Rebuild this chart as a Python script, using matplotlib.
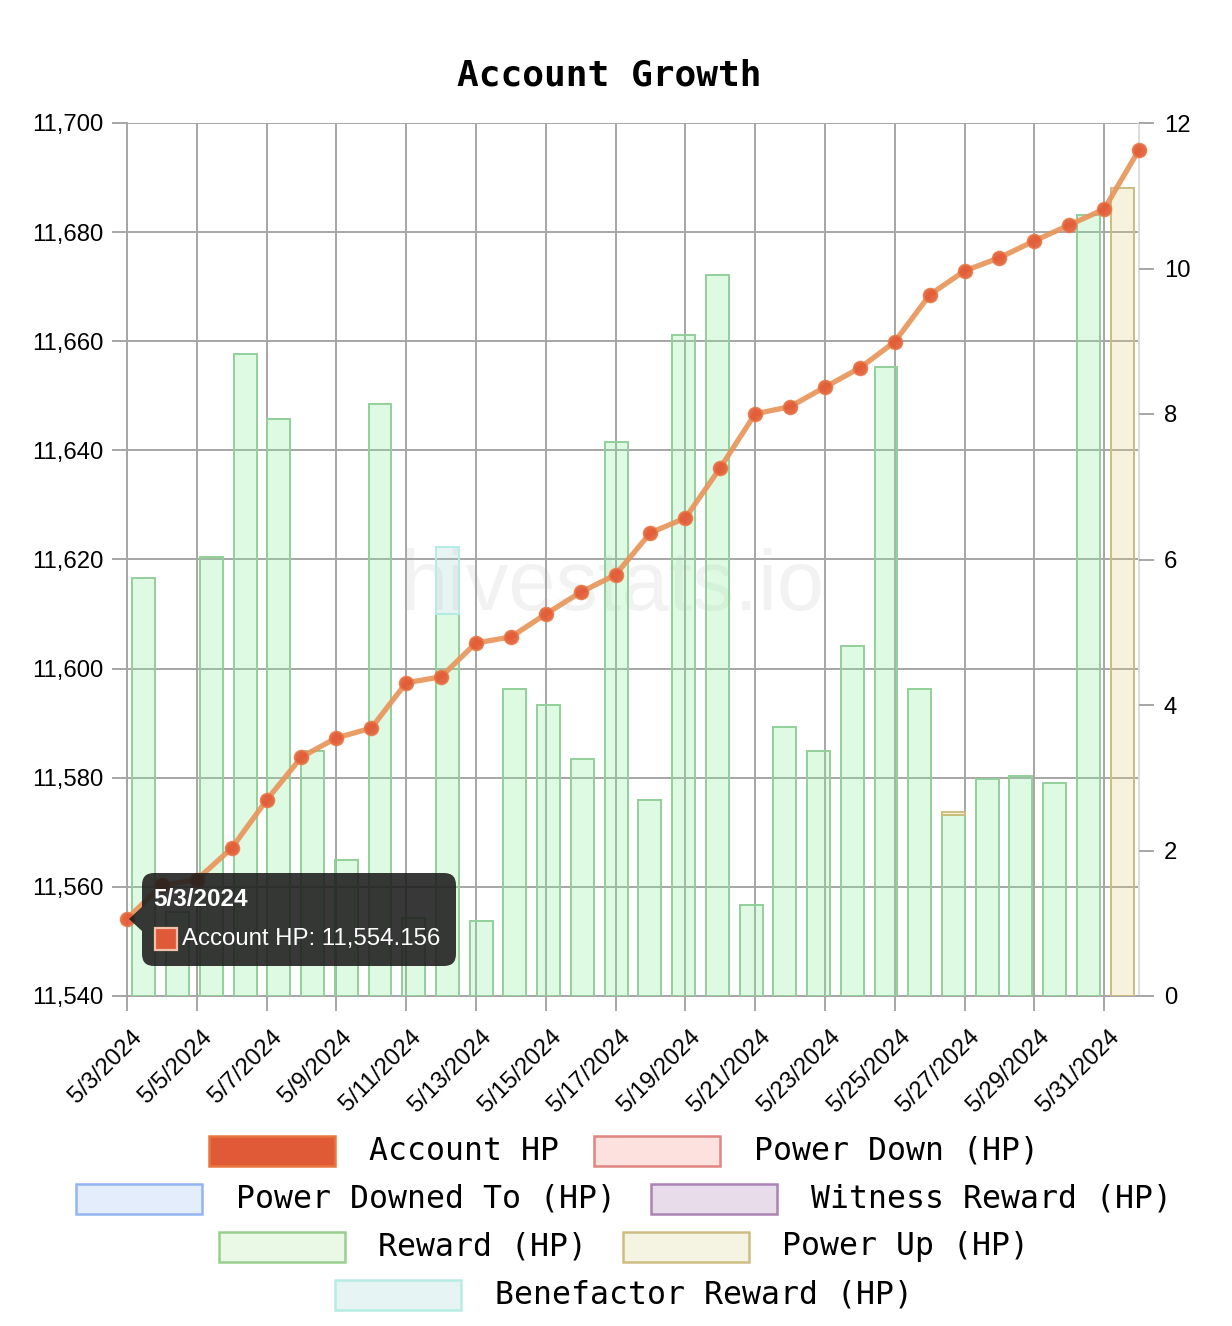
import numpy as np
import matplotlib.pyplot as plt
from matplotlib.patches import FancyBboxPatch, Rectangle, Polygon
from matplotlib.ticker import FuncFormatter
from matplotlib.transforms import Affine2D, ScaledTranslation

# daily dates (5/3 .. 6/1)
dates = ['5/3/2024', '5/4/2024', '5/5/2024', '5/6/2024', '5/7/2024', '5/8/2024',
         '5/9/2024', '5/10/2024', '5/11/2024', '5/12/2024', '5/13/2024', '5/14/2024',
         '5/15/2024', '5/16/2024', '5/17/2024', '5/18/2024', '5/19/2024', '5/20/2024',
         '5/21/2024', '5/22/2024', '5/23/2024', '5/24/2024', '5/25/2024', '5/26/2024',
         '5/27/2024', '5/28/2024', '5/29/2024', '5/30/2024', '5/31/2024', '6/1/2024']

account_hp = [11554.156, 11560.3, 11561.3, 11567.1, 11575.9, 11583.8, 11587.3, 11589.1,
              11597.4, 11598.5, 11604.7, 11605.8, 11610.0, 11614.0, 11617.2, 11624.9,
              11627.6, 11636.8, 11646.7, 11648.0, 11651.6, 11655.1, 11659.9, 11668.5,
              11672.9, 11675.3, 11678.4, 11681.3, 11684.2, 11695.1]

reward_hp = [5.75, 1.15, 6.03, 8.82, 7.93, 3.37, 1.87, 8.14, 1.07, 5.25,
             1.03, 4.22, 4.00, 3.26, 7.62, 2.69, 9.09, 9.91, 1.25, 3.70,
             3.37, 4.81, 8.65, 4.22, 2.49, 2.98, 3.02, 2.93, 10.74, 0.0]
benefactor_hp = [0, 0, 0, 0, 0, 0, 0, 0, 0, 0.92,
                 0, 0, 0, 0, 0, 0, 0, 0, 0, 0,
                 0, 0, 0, 0, 0, 0, 0, 0, 0, 0]
power_up_hp = [0, 0, 0, 0, 0, 0, 0, 0, 0, 0,
               0, 0, 0, 0, 0, 0, 0, 0, 0, 0,
               0, 0, 0, 0, 0.04, 0, 0, 0, 0, 11.10]

legend_rows = [[('Account HP', '#E05A38', '#E8773F'), ('Power Down (HP)', '#FCE1DF', '#E0857F')],
               [('Power Downed To (HP)', '#E3EDFC', '#93B5F2'), ('Witness Reward (HP)', '#E8DCEA', '#A983B3')],
               [('Reward (HP)', '#E9F9E5', '#99CE8F'), ('Power Up (HP)', '#F5F3E2', '#CDBD83')],
               [('Benefactor Reward (HP)', '#E6F4F3', '#B5EDE4')]]

W, H = 1232, 1326
GRID = '#a6a6a6'
plt.rcParams['font.family'] = ['Liberation Sans', 'DejaVu Sans']

fig = plt.figure(figsize=(W / 100, H / 100), dpi=100)
# pixel coords (top-left origin) -> figure
pxt = Affine2D().scale(1 / W, -1 / H).translate(0, 1) + fig.transFigure
rect = [127 / W, 1 - 996 / H, (1139 - 127) / W, (996 - 123) / H]

# base axes: grid, left + bottom axes
ax = fig.add_axes(rect, zorder=1)
ax.set_xlim(0, len(dates) - 1)
ax.set_ylim(11540, 11700)
ax.set_xticks(range(0, len(dates) - 1, 2))
ax.set_xticklabels(dates[0:len(dates) - 1:2], rotation=45, ha='right',
                   rotation_mode='anchor', va='center')
ax.set_yticks(np.arange(11540, 11701, 20))
ax.yaxis.set_major_formatter(FuncFormatter(lambda v, p: f'{v:,.0f}'))
ax.grid(True, color=GRID, lw=1.4)
ax.tick_params(length=11, width=1.4, color=GRID, labelsize=17.2, pad=6)
ax.tick_params(axis='x', pad=9)
shift = ScaledTranslation(0.12, -0.10, fig.dpi_scale_trans)
for lab in ax.get_xticklabels():
    lab.set_transform(lab.get_transform() + shift)
for s in ['left', 'bottom']:
    ax.spines[s].set_color(GRID)
    ax.spines[s].set_linewidth(1.4)
ax.spines['top'].set_visible(False)
ax.spines['right'].set_color('#dddddd')
ax.spines['right'].set_linewidth(1.4)
ax.text(0.479, 0.467, 'hivestats.io', transform=ax.transAxes, ha='center', va='center',
        fontsize=61, color='#f2f2f2', zorder=0)

# bar axes (category scale, right axis)
axb = fig.add_axes(rect, zorder=2)
axb.patch.set_visible(False)
axb.set_xlim(0, len(dates))
axb.set_ylim(0, 12)
xb = np.arange(len(dates)) + 0.5
reward = np.array(reward_hp)
benef = np.array(benefactor_hp)
pup = np.array(power_up_hp)
m = reward > 0
axb.bar(xb[m], reward[m], width=0.68, color=(134/255, 239/255, 150/255, 0.27),
        edgecolor='#92CF99', lw=1.4)
m = benef > 0
axb.bar(xb[m], benef[m], bottom=reward[m], width=0.68, color=(160/255, 210/255, 210/255, 0.24),
        edgecolor='#B2EDE6', lw=1.4)
m = pup > 0
axb.bar(xb[m], pup[m], bottom=(reward + benef)[m], width=0.68,
        color=(220/255, 205/255, 120/255, 0.25), edgecolor='#CBBD7E', lw=1.4)
axb.set_xticks([])
axb.yaxis.tick_right()
axb.set_yticks(range(0, 13, 2))
axb.tick_params(length=11, width=1.4, color=GRID, labelsize=17.2, pad=7)
for s in axb.spines.values():
    s.set_visible(False)

# line axes
axl = fig.add_axes(rect, zorder=3)
axl.patch.set_visible(False)
axl.set_xlim(0, len(dates) - 1)
axl.set_ylim(11540, 11700)
axl.axis('off')
axl.plot(range(len(dates)), account_hp, color='#E8955A', lw=3.8, alpha=0.92,
         marker='o', ms=10, mfc='#E25A36', mec='#E97A48', mew=1.2, clip_on=False)

# tooltip
tip = FancyBboxPatch((142, 873), 314, 93, boxstyle='round,pad=0,rounding_size=12',
                     transform=pxt, fc='#1c1c1c', ec='none', alpha=0.88, zorder=10)
fig.add_artist(tip)
fig.add_artist(Polygon([(142, 907), (129, 919), (142, 931)], closed=True,
                       transform=pxt, fc='#1c1c1c', ec='none', alpha=0.88, zorder=10))
fig.text(153, 899, dates[0], transform=pxt, color='white', fontsize=17.5,
         weight='bold', va='center', ha='left', zorder=11)
fig.add_artist(Rectangle((155, 928), 22, 22, transform=pxt, fc='#E05A38',
                         ec='#F2C0A8', lw=1.6, zorder=11))
fig.text(182, 939, f'Account HP: {account_hp[0]:,.3f}', transform=pxt, color='white',
         fontsize=17.3, va='center', ha='left', zorder=11)

# title
fig.text(609, 75, 'Account Growth', transform=pxt, ha='center', va='center',
         family='DejaVu Sans Mono', weight='bold', fontsize=26)

# legend
char_w, box_w, box_h, gap, item_gap = 19.0, 126, 30, 34, 35
for r, row in enumerate(legend_rows):
    yc = 1151 + 48 * r
    total = sum(box_w + gap + len(lbl) * char_w for lbl, _, _ in row) + item_gap * (len(row) - 1)
    x0 = 624 - total / 2
    for lbl, fc, ec in row:
        fig.add_artist(Rectangle((x0, yc - box_h / 2), box_w, box_h, transform=pxt,
                                 fc=fc, ec=ec, lw=1.8))
        fig.text(x0 + box_w + gap, yc, lbl, transform=pxt, ha='left', va='center',
                 family='DejaVu Sans Mono', fontsize=22.7)
        x0 += box_w + gap + len(lbl) * char_w + item_gap

fig.savefig('out.png', dpi=100)
